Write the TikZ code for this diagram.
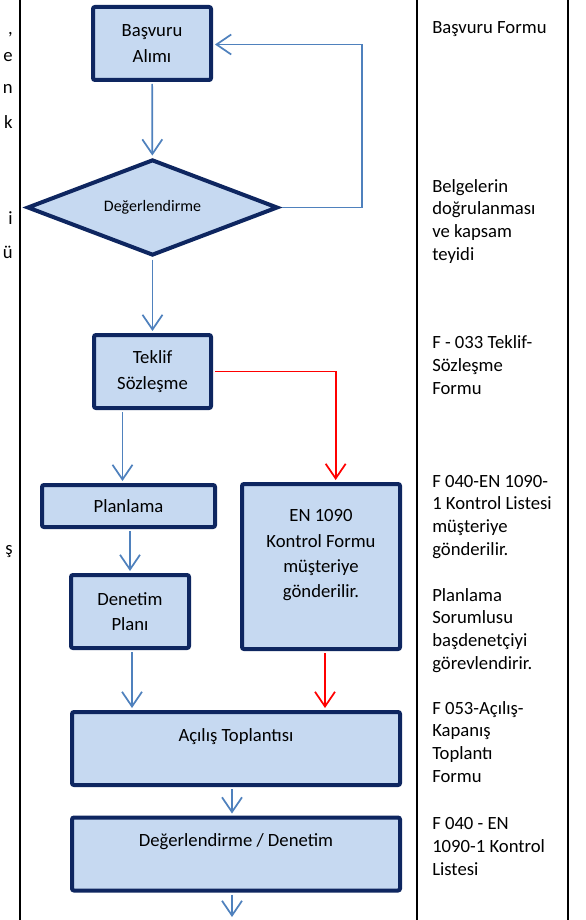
\documentclass[tikz,border=0pt]{standalone}
\usepackage{fontspec}
\setmainfont{Carlito}
\usetikzlibrary{shapes,arrows.meta}
\definecolor{boxfill}{HTML}{C6D9F1}
\definecolor{boxline}{HTML}{0E2660}
\definecolor{flow}{HTML}{4F81BD}

\begin{document}
\begin{tikzpicture}[x=0.75pt,y=-0.75pt]

	\tikzstyle{stepbox}=[draw=boxline,fill=boxfill,line width=3pt,rounded corners=1.5pt,rectangle,inner sep=0pt,align=center,font=\fontsize{14}{19}\selectfont]
	\tikzstyle{topbox}=[stepbox,text height=21.75pt,text depth=33pt]
	\tikzstyle{decision}=[draw=boxline,fill=boxfill,line width=3pt,diamond,aspect=2.56,inner sep=0pt,font=\fontsize{12}{14}\selectfont]
	\tikzstyle{flowline}=[draw=flow,line width=1.3pt,shorten <=1.5pt,shorten >=1.5pt,-{Straight Barb[length=11pt,width=15pt]}]
	\tikzstyle{redline}=[flowline,draw=red]
	\tikzstyle{note}=[anchor=base west,align=left,inner sep=0pt,font=\fontsize{14}{17}\selectfont]
	\tikzstyle{cut}=[anchor=base east,inner sep=0pt,font=\fontsize{14}{17}\selectfont]

	\useasboundingbox (0,0) rectangle (585,920);

	% table lines
	\draw[line width=1.5pt] (20,0) -- (20,920);
	\draw[line width=1.5pt] (417,0) -- (417,920);
	\draw[line width=1.5pt] (568,0) -- (568,920);

	\node[cut] (c1) at (13,35) {,};
	\node[cut] (c2) at (13,62) {e};
	\node[cut] (c3) at (13,94) {n};
	\node[cut] (c4) at (13,129) {k};
	\node[cut] (c5) at (13,224) {i};
	\node[cut] (c6) at (13,258) {ü};
	\node[cut] (c7) at (13,554) {ş};

	\node[stepbox,minimum width=88.5pt,minimum height=54.75pt] (basvuru) at (152,43.5) {Başvuru\\Alımı};
	\node[decision,minimum width=188pt,minimum height=72pt] (deger) at (152.5,207.5) {Değerlendirme};
	\node[stepbox,minimum width=87.75pt,minimum height=54.75pt] (teklif) at (152.5,371.5) {Teklif\\Sözleşme};
	\node[stepbox,minimum width=129.75pt,minimum height=31.5pt] (planlama) at (128.5,506) {Planlama};
	\node[stepbox,minimum width=118.5pt,minimum height=123.75pt] (kontrol) at (321,566.5) {EN 1090\\Kontrol Formu\\müşteriye\\gönderilir.\\~};
	\node[stepbox,minimum width=88.5pt,minimum height=54.75pt] (denetim) at (130,611.5) {Denetim\\Planı};
	\node[topbox,minimum width=246pt] (acilis) at (236,748.5) {Açılış Toplantısı};
	\node[topbox,minimum width=246pt] (degden) at (236,854) {Değerlendirme / Denetim};

	\coordinate (geri) at (362,44.5);
	\coordinate (sonra) at (232,919);

	\draw[flowline] (basvuru) -- (deger);
	\draw[flowline] (deger.east) -| (geri) -- (basvuru.east |- geri);
	\draw[flowline] (deger) -- (teklif);
	\draw[redline] (teklif.east) -| ([xshift=11pt]kontrol.north);
	\draw[flowline] ([xshift=-4.5pt]teklif.south -| planlama) -- ([xshift=-4.5pt]planlama.north);
	\draw[flowline] (planlama.south -| denetim) -- (denetim);
	\draw[flowline] ([xshift=1.5pt]denetim.south) -- ([xshift=1.5pt]denetim.south |- acilis.north);
	\draw[redline] ([xshift=3pt]kontrol.south) -- ([xshift=3pt]kontrol.south |- acilis.north);
	\draw[flowline] ([xshift=-3pt]acilis.south) -- ([xshift=-3pt]degden.north);
	\draw[flowline] (degden.south -| sonra) -- (sonra);

	\node[note] (n1) at (432,34) {Başvuru Formu};
	\node[note] (n2) at (432,260) {Belgelerin\\doğrulanması\\ve kapsam\\teyidi};
	\node[note] (n3) at (432,394) {F - 033 Teklif-\\Sözleşme\\Formu};
	\node[note] (n4) at (432,555) {F 040-EN 1090-\\1 Kontrol Listesi\\müşteriye\\gönderilir.};
	\node[note] (n5) at (432,669) {Planlama\\Sorumlusu\\başdenetçiyi\\görevlendirir.};
	\node[note] (n6) at (432,782) {F 053-Açılış-\\Kapanış\\Toplantı\\Formu};
	\node[note] (n7) at (432,875) {F 040 - EN\\1090-1 Kontrol\\Listesi};

\end{tikzpicture}
\end{document}
